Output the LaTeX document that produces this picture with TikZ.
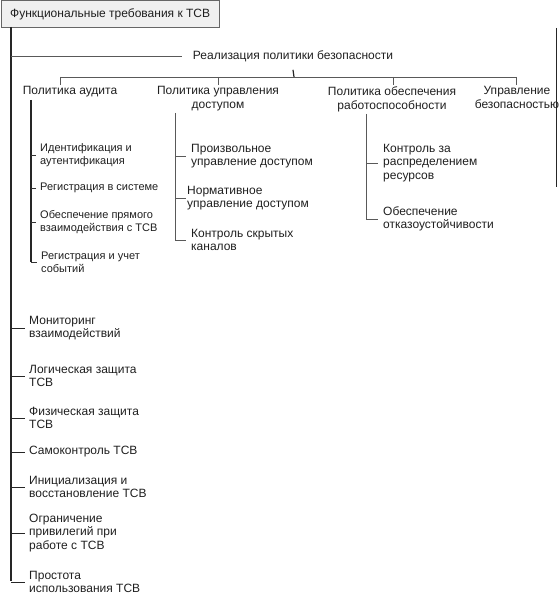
\documentclass[tikz,border=0pt]{standalone}
\usepackage{fontspec}
\setmainfont{Liberation Sans}
\begin{document}
\begin{tikzpicture}[x=1pt,y=-1pt,
  txt/.style={inner sep=0pt, text=black!88, font=\fontsize{12}{13.6}\selectfont},
  itm/.style={txt, anchor=west, align=left},
  sitm/.style={itm, font=\fontsize{11}{12.6}\selectfont},
  head/.style={txt, align=center, anchor=north},
  ln/.style={draw=black!65, line width=0.7pt},
  dk/.style={draw=black!85, line width=1.2pt},
  rootbox/.style={draw=black!60, fill=black!6, line width=0.8pt, inner sep=0pt,
    minimum width=218.5pt, minimum height=26.5pt, anchor=north west, font=\fontsize{12}{14}\selectfont, text=black!88}]
\useasboundingbox (0,0) rectangle (559,596);

% root
\node[rootbox] (root) at (0.5,0.5) {Функциональные требования к ТСВ};
\coordinate (m0) at (11,27);
\coordinate (m1) at (11,581);
\draw[dk, line width=1.6pt] (m0) -- (m1);

% realization
\node[txt] (impl) at (293,56) {Реализация политики безопасности};
\draw[ln] (m0 |- impl) -- ([xshift=-11pt]impl.west);
\coordinate (bar) at (294,77);
\draw[dk] (impl.south) ++(0,8) -- (bar);
\coordinate (t1) at (60,77);
\coordinate (t2) at (218,77);
\coordinate (t3) at (393,77);
\coordinate (t4) at (516,77);
\draw[ln] (t1) -- (t4);

\node[head] (p1) at (70,86.5) {Политика аудита};
\node[head] (p2) at (218,86.5) {Политика управления\\доступом};
\node[head] (p3) at (392,86.5) {Политика обеспечения\\работоспособности};
\node[head] (p4) at (517,86.5) {Управление\\безопасностью};
\foreach \t/\p in {t1/p1,t2/p2,t3/p3,t4/p4}
  \draw[ln] (\t) -- ([yshift=1.5pt]\t |- \p.north);

% clipped right border
\coordinate (r0) at (556.5,28);
\coordinate (r1) at (556.5,187);
\draw[dk, line width=1pt] (r0) -- (r1);

% audit
\coordinate (a0) at (31,100);
\node[sitm] (a1) at (40,155) {Идентификация и\\аутентификация};
\node[sitm] (a2) at (40,188) {Регистрация в системе};
\node[sitm] (a3) at (40,222) {Обеспечение прямого\\взаимодействия с ТСВ};
\node[sitm] (a4) at (41,262) {Регистрация и учет\\событий};
\draw[dk] (a0) -- (a0 |- a4.west);
\foreach \n in {a1,a2,a3,a4}
  \draw[ln, draw=black!80] (a0 |- \n.west) -- ([xshift=-4pt]\n.west);

% access
\coordinate (c0) at (175,113);
\node[itm] (c1) at (191,156) {Произвольное\\управление доступом};
\node[itm] (c2) at (187,198) {Нормативное\\управление доступом};
\node[itm] (c3) at (191,240) {Контроль скрытых\\каналов};
\draw[ln] (c0) -- (c0 |- c3.west);
\foreach \n in {c1,c2,c3}
  \draw[ln] (c0 |- \n.west) -- ++(11,0);

% reliability
\coordinate (b0) at (366,114);
\node[itm] (b1) at (383,163) {Контроль за\\распределением\\ресурсов};
\node[itm] (b2) at (383,219) {Обеспечение\\отказоустойчивости};
\draw[ln] (b0) -- (b0 |- b2.west);
\foreach \n in {b1,b2}
  \draw[ln] (b0 |- \n.west) -- ++(12,0);

% main list
\node[itm] (i1) at (29,328) {Мониторинг\\взаимодействий};
\node[itm] (i2) at (29,376) {Логическая защита\\ТСВ};
\node[itm] (i3) at (29,418) {Физическая защита\\ТСВ};
\node[itm] (i4) at (29,452) {Самоконтроль ТСВ};
\node[itm] (i5) at (29,487) {Инициализация и\\восстановление ТСВ};
\node[itm] (i6) at (29,533) {Ограничение\\привилегий при\\работе с ТСВ};
\node[itm] (i7) at (29,582) {Простота\\использования ТСВ};
\foreach \n in {i1,i2,i3,i4,i5,i6,i7}
  \draw[ln, draw=black!85] (m0 |- \n.west) -- ++(14,0);
\end{tikzpicture}
\end{document}
